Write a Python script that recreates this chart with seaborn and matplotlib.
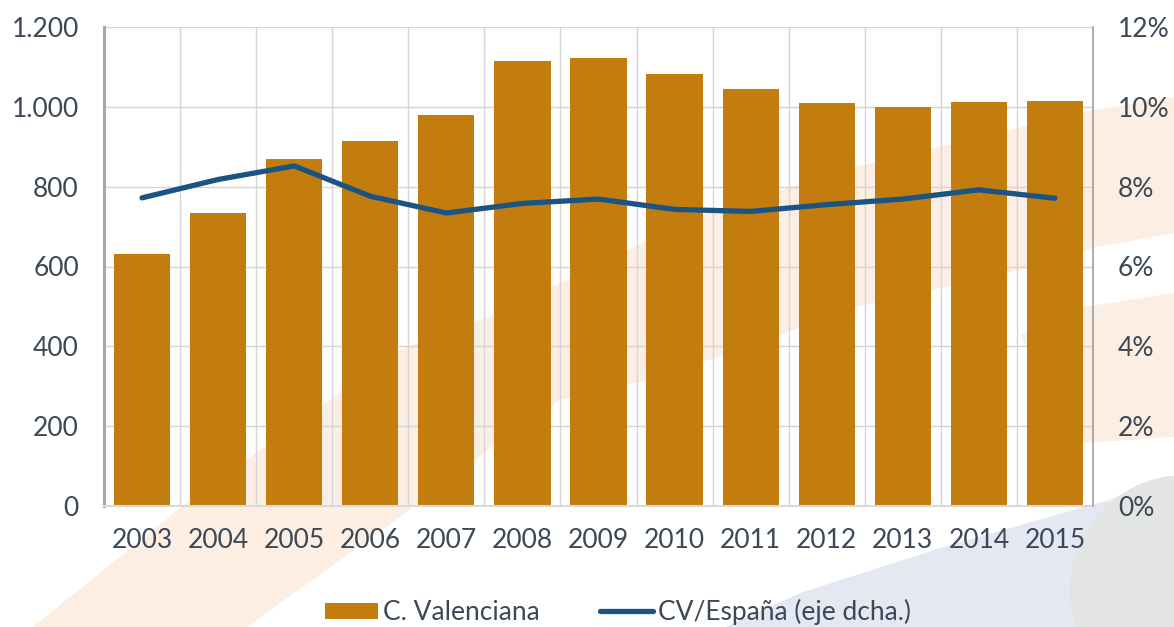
import numpy as np
import pandas as pd
import matplotlib
matplotlib.use("Agg")
import matplotlib.pyplot as plt
from matplotlib.patches import Polygon, Circle, Patch
from matplotlib.lines import Line2D
from matplotlib.ticker import FuncFormatter, MultipleLocator
import seaborn as sns

# ---- data ----
years = ["2003", "2004", "2005", "2006", "2007", "2008", "2009",
         "2010", "2011", "2012", "2013", "2014", "2015"]
cv_values = [632, 733, 869, 914, 979, 1115, 1122, 1082, 1045, 1010, 1000, 1012, 1014]
cv_spain_pct = [7.72, 8.18, 8.52, 7.76, 7.34, 7.58, 7.69, 7.43, 7.38, 7.55, 7.69, 7.92, 7.71]
left_ticks = [0, 200, 400, 600, 800, 1000, 1200]
right_ticks = [0, 2, 4, 6, 8, 10, 12]
bar_label = "C. Valenciana"
line_label = "CV/España (eje dcha.)"

sns.set_theme(style="white")
plt.rcParams["font.family"] = ["Lato", "DejaVu Sans"]

TXT = "#3B4855"
BAR = "#C37D0F"
LINE = "#1B5482"
W, H = 1174, 627

fig = plt.figure(figsize=(W / 100, H / 100), dpi=100)
fig.patch.set_facecolor("white")

# ---- decorative background ----
bg = fig.add_axes([0, 0, 1, 1], zorder=-10)
bg.set_xlim(0, W)
bg.set_ylim(H, 0)
bg.axis("off")
peach = "#FCEEE3"
bandA = [(33, 627), (190, 500), (400, 350), (488, 317), (560, 283), (700, 215),
         (855, 167), (1093, 110), (1174, 97),
         (1174, 233), (1093, 248), (1000, 275), (855, 307), (785, 333), (708, 360),
         (636, 383), (560, 400), (488, 450), (400, 517), (247, 627)]
bg.add_patch(Polygon(bandA, closed=True, facecolor=peach, edgecolor="none"))
bandB = [(1020, 335), (1083, 307), (1174, 293), (1174, 437), (1083, 443)]
bg.add_patch(Polygon(bandB, closed=True, facecolor=peach, edgecolor="none"))
blue = [(726, 627), (800, 593), (950, 545), (1098, 503), (1174, 490), (1174, 627)]
bg.add_patch(Polygon(blue, closed=True, facecolor="#E4E8F2", edgecolor="none"))
bandC = [(1098, 503), (1174, 478), (1174, 490)]
bg.add_patch(Polygon(bandC, closed=True, facecolor=peach, edgecolor="none"))
bg.add_patch(Circle((1185, 590), 115, facecolor="#E3E5E3", edgecolor="none"))

# ---- main axes ----
ax = fig.add_axes([104 / W, 1 - 506 / H, (1093 - 104) / W, (506 - 27) / H])
ax.set_facecolor("none")
df = pd.DataFrame({"year": years, "value": cv_values, "ratio": cv_spain_pct})
sns.barplot(data=df, x="year", y="value", color=BAR, width=0.74, saturation=1,
            edgecolor="none", ax=ax, zorder=2)
ax.set_xlim(-0.5, len(years) - 0.5)
ax.set_ylim(0, 1200)
ax.set_yticks(left_ticks)
ax.yaxis.set_major_formatter(FuncFormatter(lambda v, p: f"{int(v):,}".replace(",", ".")))
ax.set_xticks(np.arange(-0.5, len(years)), minor=True)
ax.set_axisbelow(True)
ax.grid(axis="y", which="major", color="#D4D4D4", linewidth=1.0)
ax.grid(axis="x", which="minor", color="#D4D4D4", linewidth=1.0)
ax.grid(axis="x", which="major", visible=False)
ax.set_xlabel("")
ax.set_ylabel("")
ax.tick_params(axis="both", which="both", length=0, labelsize=19, colors=TXT)
ax.tick_params(axis="y", pad=18)
ax.tick_params(axis="x", pad=16)
for s in ["top", "right"]:
    ax.spines[s].set_visible(False)
ax.spines["left"].set_color("#A8A8A8")
ax.spines["left"].set_linewidth(2.2)
ax.spines["bottom"].set_color("#D9D9D9")
ax.spines["bottom"].set_linewidth(1.5)

ax2 = ax.twinx()
sns.lineplot(x=np.arange(len(years)), y=df["ratio"], color=LINE, linewidth=3.8,
             ax=ax2, solid_capstyle="round")
ax2.set_ylim(0, 12)
ax2.set_yticks(right_ticks)
ax2.yaxis.set_major_formatter(FuncFormatter(lambda v, p: f"{int(v)}%"))
ax2.tick_params(axis="y", length=0, labelsize=19, colors=TXT, pad=18)
ax2.set_ylabel("")
ax2.grid(False)
for s in ["top", "left", "bottom"]:
    ax2.spines[s].set_visible(False)
ax2.spines["right"].set_color("#A0A0A0")
ax2.spines["right"].set_linewidth(1.2)
ax2.set_xlim(-0.5, len(years) - 0.5)

handles = [Patch(facecolor=BAR, edgecolor="none", label=bar_label),
           Line2D([0], [0], color=LINE, linewidth=3.8, label=line_label)]
leg = fig.legend(handles=handles, loc="center", bbox_to_anchor=(618 / W, 1 - 612 / H),
                 ncol=2, frameon=False, fontsize=19, handlelength=2.0, handleheight=0.55,
                 handletextpad=0.2, columnspacing=2.3)
for t in leg.get_texts():
    t.set_color(TXT)

fig.savefig("out.png", dpi=100, facecolor="white")
